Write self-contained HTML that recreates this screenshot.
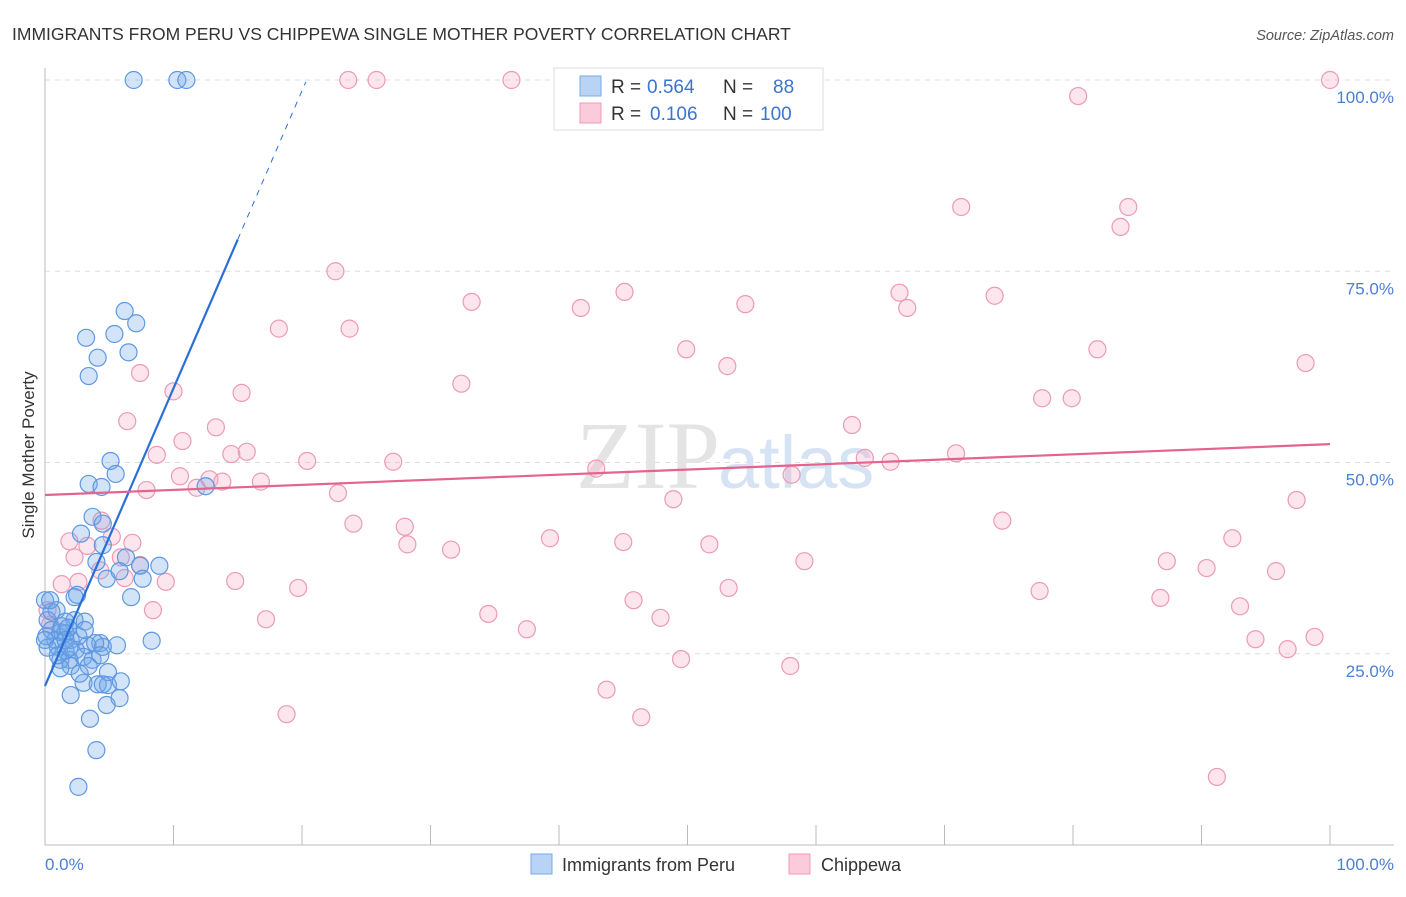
<!DOCTYPE html>
<html><head><meta charset="utf-8"><style>
body{margin:0;background:#fff;font-family:"Liberation Sans",sans-serif;}
</style></head><body>
<svg width="1406" height="892" xmlns="http://www.w3.org/2000/svg">
<text x="12" y="40" font-size="17.5" fill="#333">IMMIGRANTS FROM PERU VS CHIPPEWA SINGLE MOTHER POVERTY CORRELATION CHART</text>
<text x="1394" y="40" font-size="14.5" fill="#555" font-style="italic" text-anchor="end">Source: ZipAtlas.com</text>
<g id="grid"></g>
<text x="720" y="488" font-size="96" font-family="Liberation Serif,serif" fill="#e4e4e4" text-anchor="end">ZIP</text>
<text x="718" y="488" font-size="74" fill="#d5e3f4">atlas</text>
<line x1="45" y1="68" x2="45" y2="845" stroke="#bbb"/>
<line x1="45" y1="845" x2="1394" y2="845" stroke="#bbb"/>
<g id="ticks"></g>
<text transform="translate(34,455) rotate(-90)" font-size="17" fill="#333" text-anchor="middle">Single Mother Poverty</text>
<text x="45" y="870" font-size="17" fill="#4a7fd4">0.0%</text>
<text x="1394" y="870" font-size="17" fill="#4a7fd4" text-anchor="end">100.0%</text>
<g id="pts"></g>
<g id="lines"></g>
<g>
<rect x="554" y="68" width="269" height="62" fill="#fff" stroke="#ddd"/>
<rect x="580" y="76" width="21" height="20" fill="#b9d3f5" stroke="#7aaaea"/>
<rect x="580" y="103" width="21" height="20" fill="#fbcadb" stroke="#ef9ab7"/>
<text x="611" y="93" font-size="19" fill="#333">R = </text><text x="647" y="93" font-size="19" fill="#3b74d0">0.564</text>
<text x="723" y="93" font-size="19" fill="#333">N = </text><text x="773" y="93" font-size="19" fill="#3b74d0">88</text>
<text x="611" y="120" font-size="19" fill="#333">R = </text><text x="650" y="120" font-size="19" fill="#3b74d0">0.106</text>
<text x="723" y="120" font-size="19" fill="#333">N = </text><text x="760" y="120" font-size="19" fill="#3b74d0">100</text>
</g>
<g>
<rect x="531" y="854" width="21" height="20" fill="#b9d3f5" stroke="#7aaaea"/>
<text x="562" y="871" font-size="18" fill="#333">Immigrants from Peru</text>
<rect x="789" y="854" width="21" height="20" fill="#fbcadb" stroke="#ef9ab7"/>
<text x="821" y="871" font-size="18" fill="#333">Chippewa</text>
</g>
</svg>
<script>
const yTicks=[25,50,75,100];
const yTickLabels=["25.0%","50.0%","75.0%","100.0%"];
const pinkX=[23.6,25.8,36.3,100,80.4,71.3,84.3,83.7,22.6,33.2,41.7,45.1,54.5,66.5,67.1,73.9,18.2,23.7,49.9,53.1,81.9,98.1,32.4,10.0,15.3,7.4,6.4,62.8,77.6,79.9,13.3,10.7,8.7,14.5,15.7,20.4,27.1,10.5,11.8,12.8,13.8,16.8,42.9,58.1,63.8,65.8,70.9,7.9,22.8,48.9,97.4,24.0,28.0,4.4,74.5,31.6,39.3,28.2,45.0,51.7,1.9,3.3,6.8,5.2,2.3,5.9,59.1,87.3,92.4,90.4,95.8,1.3,2.6,9.4,14.8,19.7,53.2,77.4,86.8,93.0,8.4,34.5,45.8,47.9,37.5,17.2,94.2,98.8,96.7,49.5,58.0,43.7,18.8,46.4,91.2,0.2,0.4,4.3,6.2,7.4];
const pinkY=[100,100,100,100,97.9,83.4,83.4,80.8,75.0,71.0,70.2,72.3,70.7,72.2,70.2,71.8,67.5,67.5,64.8,62.6,64.8,63.0,60.3,59.3,59.1,61.7,55.4,54.9,58.4,58.4,54.6,52.8,51.0,51.1,51.4,50.2,50.1,48.2,46.7,47.8,47.5,47.5,49.2,48.4,50.6,50.1,51.2,46.4,46.0,45.2,45.1,42.0,41.6,42.4,42.4,38.6,40.1,39.3,39.6,39.3,39.7,39.1,39.5,40.3,37.6,37.6,37.1,37.1,40.1,36.2,35.8,34.1,34.4,34.4,34.5,33.6,33.6,33.2,32.3,31.2,30.7,30.2,32.0,29.7,28.2,29.5,26.9,27.2,25.6,24.3,23.4,20.3,17.1,16.7,8.9,30.7,28.8,35.9,34.9,36.6];
const blueX=[6.9,10.3,11.0,6.2,7.1,3.2,5.4,6.5,4.1,3.4,5.1,5.5,3.4,4.4,12.5,3.7,2.8,4.5,4.5,6.3,4.0,4.8,7.4,8.9,5.8,7.6,6.7,2.5,2.3,0.9,3.1,2.3,1.6,0.2,8.3,5.6,4.3,4.5,3.3,2.0,1.2,0.5,1.6,0.8,2.4,3.0,1.9,1.2,0.2,1.0,1.6,3.7,4.9,3.4,2.0,1.2,3.0,4.1,4.9,5.9,4.5,2.0,5.8,4.8,3.5,4.0,2.6,0.5,1.3,2.6,3.9,1.8,1.0,0.1,2.7,4.3,0,0.4,0,1.6,3.1,1.9];
const blueY=[100,100,100,69.8,68.2,66.3,66.8,64.4,63.7,61.3,50.2,48.5,47.2,46.8,46.9,42.9,40.7,39.2,42.0,37.6,37.0,34.8,36.5,36.5,35.8,34.8,32.4,32.7,32.4,30.7,29.2,29.4,29.2,29.4,26.7,26.1,26.4,25.9,26.1,26.8,27.8,28.1,27.7,26.8,25.5,24.6,24.2,24.2,25.8,25.9,25.4,24.2,22.6,23.4,23.4,23.1,21.2,21.0,20.9,21.4,21.0,19.6,19.2,18.3,16.5,12.4,7.6,30.5,28.6,27.3,26.4,28.4,24.8,27.3,22.4,24.8,32.0,32.0,26.8,26.8,28.1,25.8];
const blueFit=[20.8,3.89];   // intercept, slope
const pinkFit=[45.75,0.0665];
const X=v=>45+v*12.85, Y=v=>845-v*7.65;
const NS="http://www.w3.org/2000/svg";
function mk(tag,parent,attrs){const e=document.createElementNS(NS,tag);for(const k in attrs)e.setAttribute(k,attrs[k]);parent.appendChild(e);return e;}
const grid=document.getElementById('grid');
yTicks.forEach((t,i)=>{
 const l=mk('line',grid,{x1:45,x2:1394,y1:Y(t),y2:Y(t),stroke:'#ddd','stroke-dasharray':'5,5'});
 
 
 const tx=mk('text',grid,{x:1394,y:Y(t)+23,'font-size':17,fill:'#4a7fd4','text-anchor':'end'});
 tx.textContent=yTickLabels[i];
 
 
});
const ticks=document.getElementById('ticks');
for(let i=0;i<=10;i++){
 const l=mk('line',ticks,{x1:X(i*10),x2:X(i*10),y1:825,y2:845,stroke:'#bbb'});
 
 
}
const pts=document.getElementById('pts');
pinkX.forEach((x,i)=>{
 const c=mk('circle',pts,{cx:X(x),cy:Y(pinkY[i]),r:8.5,fill:'rgba(246,170,196,0.3)',stroke:'#ec9ab6','stroke-width':1.2});
 
 
});
blueX.forEach((x,i)=>{
 const c=mk('circle',pts,{cx:X(x),cy:Y(blueY[i]),r:8.5,fill:'rgba(110,165,232,0.3)',stroke:'#5f98e2','stroke-width':1.2});
 
 
});
const lines=document.getElementById('lines');
const bl=mk('line',lines,{x1:X(0),y1:Y(blueFit[0]),x2:X(15),y2:Y(blueFit[0]+blueFit[1]*15),stroke:'#2a6fd8','stroke-width':2.2});


const bd=mk('line',lines,{x1:X(15),y1:Y(blueFit[0]+blueFit[1]*15),x2:X(20.3),y2:Y(blueFit[0]+blueFit[1]*20.3),stroke:'#2a6fd8','stroke-width':1,'stroke-dasharray':'6,6'});


const pl=mk('line',lines,{x1:X(0),y1:Y(pinkFit[0]),x2:X(100),y2:Y(pinkFit[0]+pinkFit[1]*100),stroke:'#e4638f','stroke-width':2.2});


</script>
</body></html>
